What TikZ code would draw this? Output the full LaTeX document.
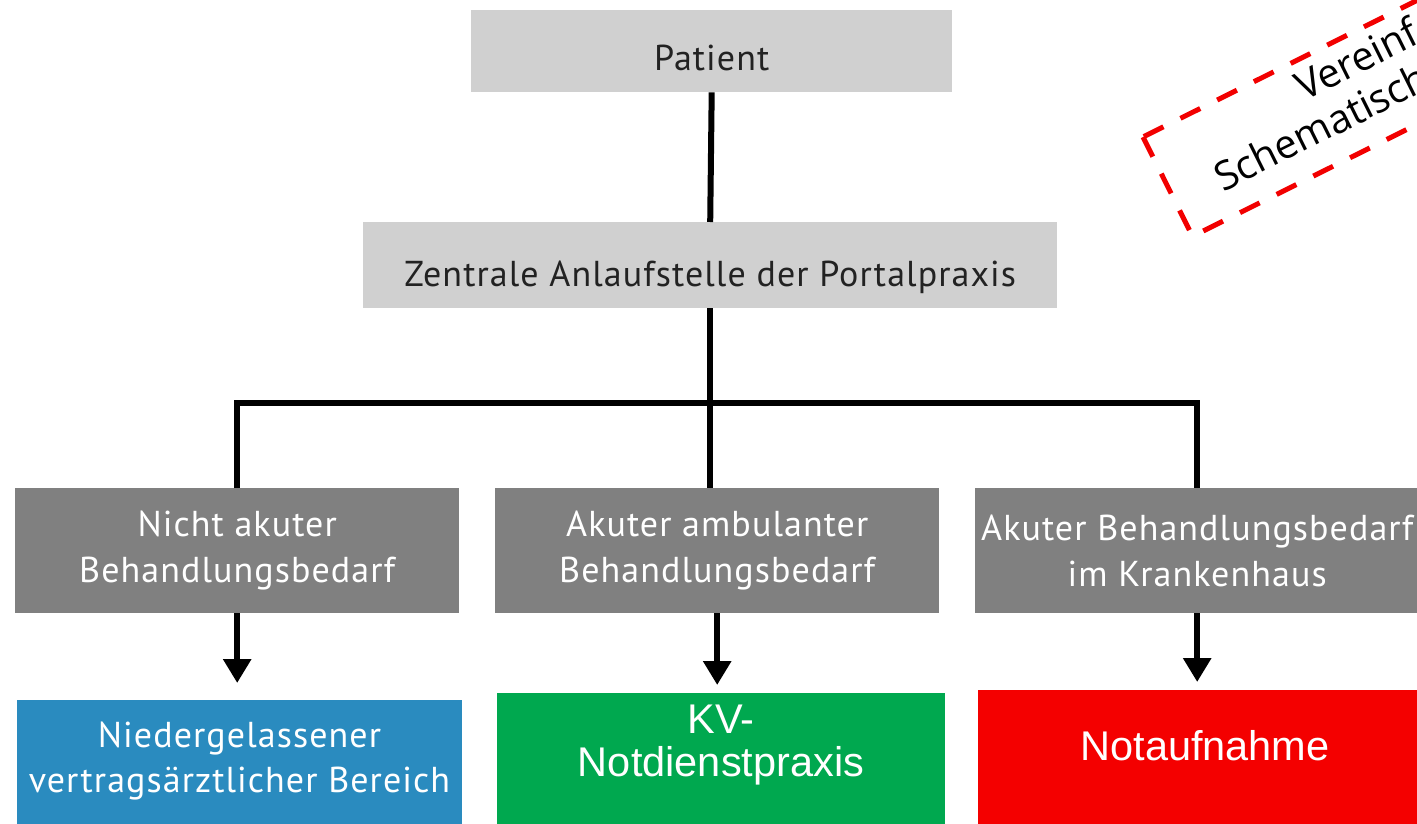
\documentclass[tikz,border=0pt]{standalone}
\usepackage{fontspec}
\usetikzlibrary{arrows.meta}
\newfontfamily\boxfont[LetterSpace=3]{PT Sans}
\newfontfamily\arialfont{Liberation Sans}
\newfontfamily\notefont{Open Sans}
\definecolor{lightgr}{HTML}{D0D0D0}
\definecolor{darkgr}{HTML}{808080}
\definecolor{textdark}{HTML}{222222}
\definecolor{boxblue}{HTML}{2A8BBF}
\definecolor{boxgreen}{HTML}{00A84F}
\definecolor{boxred}{HTML}{F40000}
\definecolor{notered}{HTML}{F20000}
\begin{document}
\begin{tikzpicture}[x=1pt,y=-1pt,
  lightbox/.style={fill=lightgr, inner sep=0pt, anchor=north west, text=textdark, text depth=0pt, font=\boxfont\fontsize{36}{44}\selectfont},
  graybox/.style={fill=darkgr, inner sep=0pt, anchor=north west, align=center, text=white, minimum width=444pt, minimum height=125pt, font=\boxfont\fontsize{36}{46}\selectfont},
  colbox/.style={inner sep=0pt, anchor=north west, minimum height=150pt},
  boxtext/.style={text=white, align=center, inner sep=0pt, font=\boxfont\fontsize{36}{45}\selectfont},
  arialtext/.style={text=white, align=center, inner sep=0pt, font=\arialfont\fontsize{41.5}{43}\selectfont},
  conn/.style={line width=6pt, line join=miter},
  arr/.style={conn, -{Triangle[width=27pt,length=24pt]}},
  notebox/.style={draw=notered, line width=5pt, dash pattern=on 22pt off 19pt},
  notetext/.style={anchor=base west, inner sep=0pt, transform shape, font=\notefont\fontsize{40}{46}\selectfont}
]
\useasboundingbox (0,0) rectangle (1417,824);
\clip (0,0) rectangle (1417,824);

% top boxes
\node[lightbox, minimum width=481pt, minimum height=82pt, text height=38pt] (patient) at (471,10) {Patient};
\node[lightbox, minimum width=694pt, minimum height=86pt, text height=42pt] (zentrale) at (363,222) {Zentrale Anlaufstelle der Portalpraxis};

% gray boxes
\node[graybox] (lgray) at (15,488) {Nicht akuter\\Behandlungsbedarf};
\node[graybox] (mgray) at (495,488) {Akuter ambulanter\\Behandlungsbedarf};
\node[graybox] (rgray) at (975,488) {Akuter Behandlungsbedarf\\im Krankenhaus};

% bottom coloured boxes
\node[colbox, fill=boxblue, minimum width=445pt] (nbox) at (17,700) {};
\node[boxtext] (ntext) at (239.5,761) {Niedergelassener\\vertragsärztlicher Bereich};
\node[colbox, fill=boxgreen, minimum width=448pt] (kvbox) at (497,693) {};
\node[arialtext] (kvtext) at (721,745) {KV-\\Notdienstpraxis};
\node[colbox, fill=boxred, minimum width=452pt] (notbox) at (978,690) {};
\node[arialtext] (nottext) at (1205,746) {Notaufnahme};

% connectors
\coordinate (hbar) at (715,403);
\draw[conn] (patient.south) -- (zentrale.north);
\draw[conn] (zentrale.south) -- (zentrale.south |- mgray.north);
\draw[conn] (lgray.north) |- (hbar) -| (rgray.north);

\draw[arr, shorten >=17pt] (lgray.south) -- (lgray.south |- nbox.north);
\draw[arr, shorten >=8pt] (mgray.south) -- (mgray.south |- kvbox.north);
\draw[arr, shorten >=8pt] (rgray.south) -- (rgray.south |- notbox.north);

% rotated dashed note
\begin{scope}[shift={(1143,137)}, rotate=26.5]
  \draw[notebox] (0,0) rectangle (700,111);
  \node[notetext] (note1) at (160,40) {Vereinfachte};
  \node[notetext] (note2) at (47,85) {Schematische};
\end{scope}
\end{tikzpicture}
\end{document}
